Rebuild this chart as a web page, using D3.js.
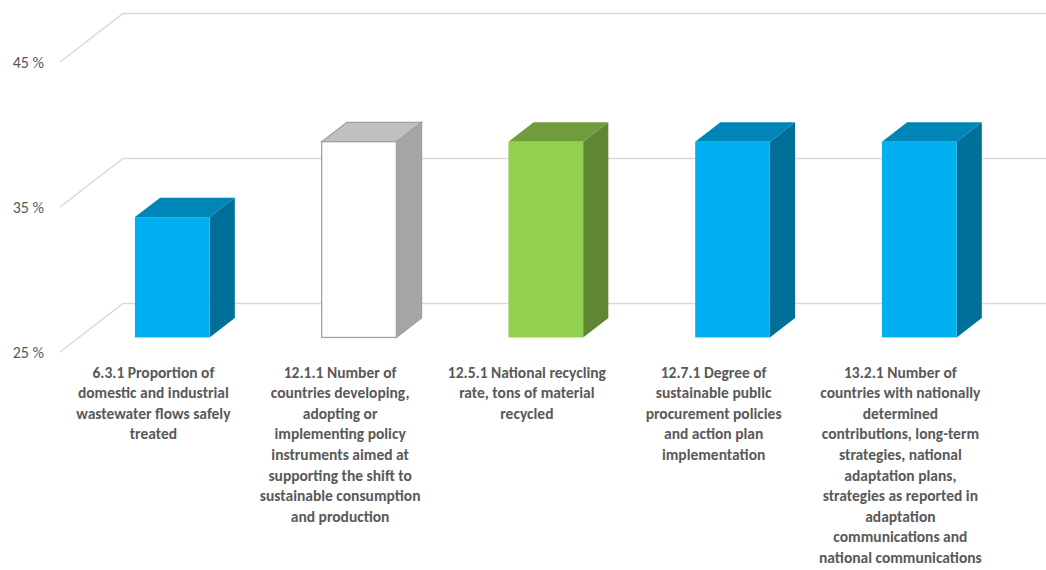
<!DOCTYPE html>
<html>
<head>
<meta charset="utf-8">
<script src="https://cdn.jsdelivr.net/npm/d3@7/dist/d3.min.js"></script>
<style>
  html, body { margin: 0; padding: 0; background: #ffffff; }
  svg { display: block; }
</style>
</head>
<body>
<svg id="chart" width="1046" height="570"></svg>
<script>
// ---- data ----
const categories = [
  "6.3.1 Proportion of\ndomestic and industrial\nwastewater flows safely\ntreated",
  "12.1.1 Number of\ncountries developing,\nadopting or\nimplementing policy\ninstruments aimed at\nsupporting the shift to\nsustainable consumption\nand production",
  "12.5.1 National recycling\nrate, tons of material\nrecycled",
  "12.7.1 Degree of\nsustainable public\nprocurement policies\nand action plan\nimplementation",
  "13.2.1 Number of\ncountries with nationally\ndetermined\ncontributions, long-term\nstrategies, national\nadaptation plans,\nstrategies as reported in\nadaptation\ncommunications and\nnational communications"
];
const values = [33.3, 38.5, 38.5, 38.5, 38.5];
const barStyles = ["blue", "white", "green", "blue", "blue"];
const tickValues = [25, 35, 45];
const tickLabels = ["25 %", "35 %", "45 %"];

// ---- styles ----
const palette = {
  blue:  { front: "#00B0F0", top: "#0086B6", side: "#007098", stroke: "none" },
  green: { front: "#92D050", top: "#709C3E", side: "#5F8733", stroke: "none" },
  white: { front: "#FFFFFF", top: "#C0C0C0", side: "#A5A5A5", stroke: "#A0A0A0" }
};

const svg = d3.select("#chart");
const left = 60, right = 993.75;
const depthX = 63, depthY = -48.5;     // full depth offset of the 3D box
const barD0 = 0.3, barD1 = 0.7;        // bar depth span (fraction)

const x = d3.scaleBand().domain(d3.range(categories.length))
  .range([left, right]).paddingInner(0.6).paddingOuter(0.3);
const xCat = d3.scaleBand().domain(d3.range(categories.length))
  .range([left, right]);
const y = d3.scaleLinear().domain([25, 45]).range([352, 62]);

// gridlines (front -> back wall -> right)
const gGrid = svg.append("g");
tickValues.forEach(v => {
  const yf = y(v), yb = y(v) + depthY;
  gGrid.append("polyline")
    .attr("points", `${left},${yf} ${left + depthX},${yb} 1046,${yb}`)
    .attr("fill", "none").attr("stroke", "#D9D9D9").attr("stroke-width", 1.5);
});

// y tick labels
svg.append("g").selectAll("text").data(tickValues).join("text")
  .attr("x", 44).attr("y", d => y(d))
  .attr("dy", "0.35em").attr("text-anchor", "end")
  .attr("font-family", "Carlito, Calibri, Lato, 'Open Sans', sans-serif")
  .attr("font-size", 16).attr("fill", "#595959")
  .text((d, i) => tickLabels[i]);

// bars
const gBars = svg.append("g");
values.forEach((v, i) => {
  const st = palette[barStyles[i]];
  const ox0 = depthX * barD0, oy0 = depthY * barD0;
  const ox1 = depthX * barD1, oy1 = depthY * barD1;
  const xl = x(i) + ox0, xr = x(i) + x.bandwidth() + ox0;
  const yt = y(v) + oy0, yb = y(25) + oy0;
  const dx = ox1 - ox0, dy = oy1 - oy0;
  const sw = st.stroke === "none" ? 0 : 1.3;
  // side
  gBars.append("polygon")
    .attr("points", `${xr},${yt} ${xr + dx},${yt + dy} ${xr + dx},${yb + dy} ${xr},${yb}`)
    .attr("fill", st.side).attr("stroke", st.stroke).attr("stroke-width", sw);
  // top
  gBars.append("polygon")
    .attr("points", `${xl},${yt} ${xl + dx},${yt + dy} ${xr + dx},${yt + dy} ${xr},${yt}`)
    .attr("fill", st.top).attr("stroke", st.stroke).attr("stroke-width", sw);
  // front
  gBars.append("rect")
    .attr("x", xl).attr("y", yt).attr("width", xr - xl).attr("height", yb - yt)
    .attr("fill", st.front).attr("stroke", st.stroke).attr("stroke-width", sw);
});

// category labels
const gLab = svg.append("g")
  .attr("font-family", "Carlito, Calibri, Lato, 'Open Sans', sans-serif")
  .attr("font-weight", "bold").attr("font-size", 15.5).attr("fill", "#595959")
  .attr("text-anchor", "middle");
categories.forEach((c, i) => {
  const cx = xCat(i) + xCat.bandwidth() / 2;
  const t = gLab.append("text").attr("x", cx).attr("y", 377.5);
  c.split("\n").forEach((line, j) => {
    t.append("tspan").attr("x", cx).attr("dy", j === 0 ? 0 : 20.6).text(line);
  });
});
</script>
</body>
</html>
